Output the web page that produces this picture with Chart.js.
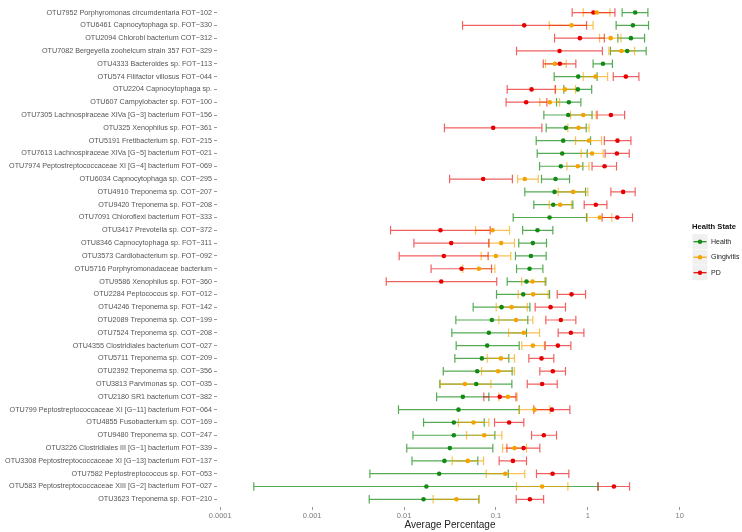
<!DOCTYPE html>
<html><head><meta charset="utf-8">
<script src="https://cdn.jsdelivr.net/npm/chart.js@4/dist/chart.umd.min.js"></script>
<style>html,body{margin:0;padding:0;background:#fff}#wrap{width:742px;height:532px;position:relative}</style>
</head><body><div id="wrap"><canvas id="c" width="742" height="532"></canvas></div>
<script>
const categories = [
"OTU7952 Porphyromonas circumdentaria FOT−102",
"OTU6461 Capnocytophaga sp. FOT−330",
"OTU2094 Chlorobi bacterium COT−312",
"OTU7082 Bergeyella zoohelcum strain 357 FOT−329",
"OTU4333 Bacteroides sp. FOT−113",
"OTU574 Filifactor villosus FOT−044",
"OTU2204 Capnocytophaga sp.",
"OTU607 Campylobacter sp. FOT−100",
"OTU7305 Lachnospiraceae XIVa [G−3] bacterium FOT−156",
"OTU325 Xenophilus sp. FOT−361",
"OTU5191 Fretibacterium sp. FOT−215",
"OTU7613 Lachnospiraceae XIVa [G−5] bacterium FOT−021",
"OTU7974 Peptostreptococcaceae XI [G−4] bacterium FOT−069",
"OTU6034 Capnocytophaga sp. COT−295",
"OTU4910 Treponema sp. COT−207",
"OTU9420 Treponema sp. FOT−208",
"OTU7091 Chloroflexi bacterium FOT−333",
"OTU3417 Prevotella sp. COT−372",
"OTU8346 Capnocytophaga sp. FOT−311",
"OTU3573 Cardiobacterium sp. FOT−092",
"OTU5716 Porphyromonadaceae bacterium",
"OTU9586 Xenophilus sp. FOT−360",
"OTU2284 Peptococcus sp. FOT−012",
"OTU4246 Treponema sp. FOT−142",
"OTU2089 Treponema sp. COT−199",
"OTU7524 Treponema sp. COT−208",
"OTU4355 Clostridiales bacterium COT−027",
"OTU5711 Treponema sp. COT−209",
"OTU2392 Treponema sp. COT−356",
"OTU3813 Parvimonas sp. COT−035",
"OTU2180 SR1 bacterium COT−382",
"OTU799 Peptostreptococcaceae XI [G−11] bacterium FOT−064",
"OTU4855 Fusobacterium sp. COT−169",
"OTU9480 Treponema sp. COT−247",
"OTU3226 Clostridiales III [G−1] bacterium FOT−339",
"OTU3308 Peptostreptococcaceae XI [G−13] bacterium FOT−137",
"OTU7582 Peptostreptococcus sp. FOT−053",
"OTU583 Peptostreptococcaceae XIII [G−2] bacterium FOT−027",
"OTU3623 Treponema sp. FOT−210"
];

const healthLow  = [2.36,2.03,2.12,1.76,1.14,0.430,0.548,0.456,0.332,0.352,0.274,0.281,0.298,0.313,0.206,0.258,0.154,0.195,0.177,0.163,0.1675,0.1325,0.1014,0.0565,0.0366,0.0331,0.0369,0.0357,0.0267,0.0245,0.0226,0.0087,0.0163,0.0125,0.0107,0.0122,0.00425,0.000232,0.00418];
const healthMean = [3.27,3.09,2.94,2.68,1.46,0.785,0.778,0.621,0.611,0.576,0.539,0.526,0.508,0.445,0.434,0.42,0.383,0.283,0.252,0.24,0.232,0.215,0.198,0.115,0.0902,0.0837,0.0803,0.0703,0.0625,0.061,0.0436,0.0391,0.0348,0.0348,0.0315,0.0275,0.0241,0.0175,0.0163];
const healthHigh = [4.50,4.57,4.14,4.31,1.85,1.26,1.10,0.839,1.11,0.959,1.07,0.984,0.882,0.632,0.944,0.687,0.967,0.416,0.355,0.352,0.324,0.349,0.383,0.234,0.222,0.215,0.179,0.138,0.150,0.149,0.0837,0.179,0.0745,0.0973,0.0925,0.0635,0.136,1.29,0.0652];

const gingLow  = [0.89,0.38,1.34,1.69,0.346,0.89,0.445,0.30,0.648,0.606,0.734,0.846,0.591,0.172,0.475,0.38,0.984,0.060,0.0837,0.069,0.0436,0.19,0.1746,0.1006,0.1075,0.137,0.191,0.0803,0.0697,0.0249,0.1075,0.180,0.0391,0.0478,0.118,0.0334,0.0783,0.1675,0.0207];
const gingMean = [1.25,0.664,1.77,2.32,0.4375,1.21,0.562,0.386,0.89,0.791,1.03,1.11,0.778,0.206,0.692,0.50,1.35,0.0918,0.114,0.0997,0.0652,0.25,0.254,0.1477,0.165,0.201,0.252,0.113,0.1057,0.0459,0.135,0.263,0.057,0.0745,0.159,0.0494,0.126,0.318,0.0372];
const gingHigh = [1.74,1.14,2.29,3.22,0.581,1.64,0.734,0.492,1.23,1.03,1.41,1.47,1.03,0.288,1.0,0.664,1.82,0.1405,0.159,0.145,0.0973,0.340,0.370,0.219,0.252,0.298,0.337,0.159,0.159,0.0881,0.170,0.386,0.0837,0.116,0.215,0.0733,0.206,0.606,0.0652];

const pdLow  = [0.675,0.0433,0.434,0.1675,0.327,1.89,0.1325,0.129,1.26,0.0275,1.51,1.54,1.11,0.0313,1.78,0.912,1.43,0.00713,0.0128,0.00885,0.0197,0.0064,0.464,0.267,0.349,0.475,0.343,0.228,0.30,0.219,0.0738,0.258,0.0965,0.244,0.1315,0.1084,0.276,1.29,0.166];
const pdMean = [1.15,0.203,0.818,0.492,0.496,2.59,0.244,0.213,1.78,0.0933,2.10,2.07,1.52,0.0726,2.42,1.22,2.09,0.0249,0.0326,0.0271,0.0422,0.0254,0.664,0.393,0.508,0.653,0.472,0.313,0.416,0.318,0.110,0.406,0.139,0.332,0.1995,0.153,0.413,1.92,0.234];
const pdHigh = [1.97,0.967,1.51,1.44,0.740,3.59,0.441,0.358,2.51,0.316,2.94,2.82,2.05,0.151,3.27,1.61,3.06,0.0865,0.0837,0.0822,0.0895,0.102,0.944,0.571,0.740,0.905,0.653,0.426,0.571,0.464,0.165,0.637,0.201,0.456,0.30,0.215,0.621,2.84,0.33];

const groups = ["Health","Gingivitis","PD"];
const xTickValues = [0.0001,0.001,0.01,0.1,1,10];
const xTickLabels = ["0.0001","0.001","0.01","0.1","1","10"];

const FONT = "'Liberation Sans', Arial, Helvetica, sans-serif";
const pointColors = ["#138a13","#f5a300","#e60000"];
const barColors = ["rgba(19,138,19,0.72)","rgba(245,163,0,0.68)","rgba(230,0,0,0.62)"];

function mk(mean, lo, hi){
  return categories.map((c,i)=>({x:mean[i], y:i, lo:lo[i], hi:hi[i]}));
}
const datasets = [
  {label:groups[0], data:mk(healthMean,healthLow,healthHigh)},
  {label:groups[1], data:mk(gingMean,gingLow,gingHigh)},
  {label:groups[2], data:mk(pdMean,pdLow,pdHigh)}
].map((d,k)=>Object.assign(d,{
  backgroundColor:pointColors[k], borderColor:pointColors[k],
  pointRadius:2.3, pointHoverRadius:2.3, borderWidth:0
}));

const errorBars = {
  id:'errorBars',
  beforeDatasetsDraw(chart){
    const ctx = chart.ctx, xs = chart.scales.x, ys = chart.scales.y;
    ctx.save();
    ctx.lineWidth = 1.2;
    chart.data.datasets.forEach((ds,k)=>{
      ctx.strokeStyle = barColors[k];
      ds.data.forEach(p=>{
        const x1 = xs.getPixelForValue(p.lo), x2 = xs.getPixelForValue(p.hi);
        const y = ys.getPixelForValue(p.y);
        ctx.beginPath();
        ctx.moveTo(x1,y); ctx.lineTo(x2,y);
        ctx.moveTo(x1,y-4.3); ctx.lineTo(x1,y+4.3);
        ctx.moveTo(x2,y-4.3); ctx.lineTo(x2,y+4.3);
        ctx.stroke();
      });
    });
    ctx.restore();
  }
};

const legendPlugin = {
  id:'customLegend',
  afterDraw(chart){
    const ctx = chart.ctx;
    ctx.save();
    ctx.textBaseline = 'middle';
    ctx.textAlign = 'left';
    ctx.fillStyle = '#111';
    ctx.font = "bold 7.6px " + FONT;
    ctx.fillText("Health State", 692, 227);
    groups.forEach((g,k)=>{
      const cy = 241.7 + k*15.5;
      ctx.fillStyle = '#f0f0f0';
      ctx.fillRect(692.5, cy-7.5, 15, 15);
      ctx.strokeStyle = pointColors[k];
      ctx.lineWidth = 1.2;
      ctx.beginPath(); ctx.moveTo(693.5,cy); ctx.lineTo(706.5,cy); ctx.stroke();
      ctx.fillStyle = pointColors[k];
      ctx.beginPath(); ctx.arc(700,cy,2.2,0,Math.PI*2); ctx.fill();
      ctx.fillStyle = '#222';
      ctx.font = "7px " + FONT;
      ctx.fillText(g, 711, cy);
    });
    ctx.restore();
  }
};

new Chart(document.getElementById('c'), {
  type:'scatter',
  data:{datasets},
  plugins:[errorBars, legendPlugin],
  options:{
    responsive:false, animation:false, devicePixelRatio:1,
    layout:{padding:{top:0,right:59,bottom:0,left:0}},
    plugins:{legend:{display:false}, tooltip:{enabled:false}},
    scales:{
      x:{
        type:'logarithmic',
        min:Math.pow(10,-4.035), max:Math.pow(10,1.035),
        afterBuildTicks(s){ s.ticks = xTickValues.map(v=>({value:v})); },
        afterFit(s){ s.height = 25; },
        ticks:{
          autoSkip:false, maxRotation:0, padding:1,
          color:'#7a7a7a', font:{family:FONT,size:7.5},
          callback:(v)=>{ const i = xTickValues.indexOf(v); return i>=0 ? xTickLabels[i] : ''; }
        },
        grid:{drawOnChartArea:false, tickLength:3, color:'#9a9a9a', tickColor:'#9a9a9a'},
        border:{display:false},
        title:{display:true, text:'Average Percentage', color:'#222', font:{family:FONT,size:10}, padding:{top:0,bottom:1}}
      },
      y:{
        type:'linear', reverse:true,
        min:-0.486, max:38.6,
        afterBuildTicks(s){ s.ticks = categories.map((c,i)=>({value:i})); },
        afterFit(s){ s.width = 217; },
        ticks:{
          autoSkip:false, padding:2,
          color:'#555', font:{family:FONT,size:7.2},
          callback:(v)=>categories[v]
        },
        grid:{drawOnChartArea:false, tickLength:3, color:'#9a9a9a', tickColor:'#9a9a9a'},
        border:{display:false}
      }
    }
  }
});
</script></body></html>
